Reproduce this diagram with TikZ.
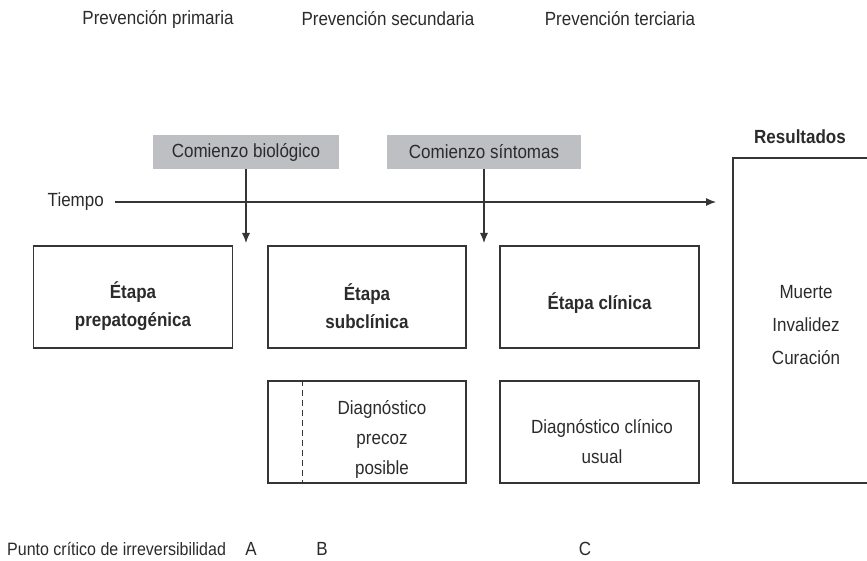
\documentclass[tikz,border=0pt]{standalone}
\usepackage{fontspec}
\usepackage{graphicx}
\setmainfont{Liberation Sans}
\usetikzlibrary{arrows.meta}
\definecolor{ink}{HTML}{2B2B2B}
\definecolor{rule}{HTML}{353535}
\definecolor{tag}{HTML}{BEBFC3}
% slightly taller letter shapes for all labels
\newcommand{\tallrow}[1]{\scalebox{1}[1.12]{#1}}
\begin{document}
\begin{tikzpicture}[x=1pt,y=-1pt,
  txt/.style={font=\fontsize{17}{30}\selectfont, text=ink, inner sep=0pt, align=center},
  boldtxt/.style={txt, font=\fontsize{17}{28}\selectfont\bfseries},
  box/.style={draw=rule, line width=1.1pt, minimum width=199pt, minimum height=102pt, inner sep=0pt},
  onset/.style={txt, fill=tag, minimum height=34pt},
  arr/.style={draw=rule, line width=1.1pt, -{Latex[length=10pt,width=8pt]}}]
\useasboundingbox (0,0) rectangle (867,561);

% levels of prevention
\node[txt] (pp) at (158,19) {\tallrow{Prevención primaria}};
\node[txt] (ps) at (388,19) {\tallrow{Prevención secundaria}};
\node[txt] (pt) at (620,19) {\tallrow{Prevención terciaria}};

% onset markers
\node[onset, minimum width=186pt] (cb) at (246,152) {\tallrow{Comienzo biológico}};
\node[onset, minimum width=194pt] (cs) at (484,152) {\tallrow{Comienzo síntomas}};

% time axis
\node[txt, anchor=east] (tiempo) at (104,202) {\tallrow{Tiempo}};
\coordinate (tEnd) at (716,202);
\draw[arr] ([xshift=11pt]tiempo.east) -- (tEnd);

\coordinate (cbTip) at (246,243);
\coordinate (csTip) at (484,243);
\draw[arr] (cb.south) -- (cbTip);
\draw[arr] (cs.south) -- (csTip);

% stages of the natural history
\node[box] (e1) at (133,297) {};
\node[box, minimum width=198pt] (e2) at (367,297) {};
\node[box] (e3) at (599.5,297) {};
\node[boldtxt] (e1t) at (133,306) {\tallrow{Étapa}\\\tallrow{prepatogénica}};
\node[boldtxt] (e2t) at (367,306) {\tallrow{Étapa}\\\tallrow{subclínica}};
\node[boldtxt] (e3t) at (599.5,303) {\tallrow{Étapa clínica}};

% diagnosis boxes
\node[box, minimum width=198pt] (d2) at (367,432) {};
\draw[rule, line width=1.1pt, dash pattern=on 6pt off 4pt]
  ([xshift=35pt]d2.north west) -- ([xshift=35pt]d2.south west);
\node[txt] (d2t) at (382,439) {\tallrow{Diagnóstico}\\\tallrow{precoz}\\\tallrow{posible}};
\node[box] (d3) at (599.5,432) {};
\node[txt] (d3t) at (602,442) {\tallrow{Diagnóstico clínico}\\\tallrow{usual}};

% outcomes
\node[boldtxt] (res) at (800,137) {\tallrow{Resultados}};
\node[box, minimum width=147pt, minimum height=325pt] (out) at (806.5,320.5) {};
\node[txt, font=\fontsize{17}{33}\selectfont] (outt) at (806,325) {\tallrow{Muerte}\\\tallrow{Invalidez}\\\tallrow{Curación}};

% critical point of irreversibility
\node[txt, font=\fontsize{16}{20}\selectfont, anchor=west] (pc) at (7,549) {\tallrow{Punto crítico de irreversibilidad}};
\node[txt] (ptA) at (251,549) {\tallrow{A}};
\node[txt] (ptB) at (322,549) {\tallrow{B}};
\node[txt] (ptC) at (585,549) {\tallrow{C}};
\end{tikzpicture}
\end{document}
